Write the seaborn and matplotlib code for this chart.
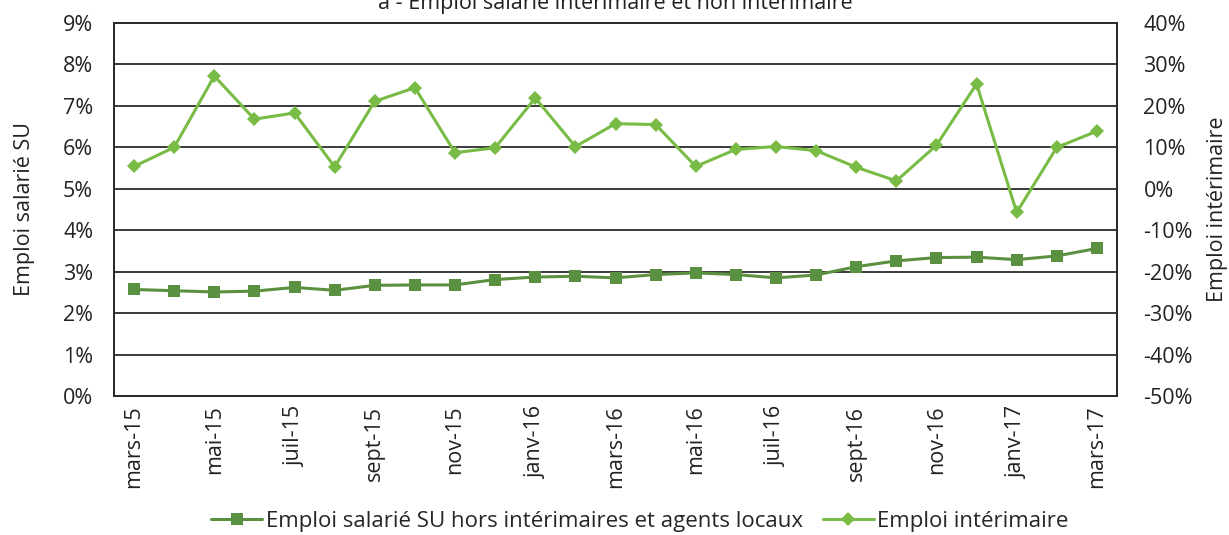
import matplotlib
matplotlib.use("Agg")
import matplotlib.pyplot as plt
import matplotlib.ticker as mtick
import numpy as np
import pandas as pd
import seaborn as sns

mois = ["mars-15", "avr-15", "mai-15", "juin-15", "juil-15", "août-15", "sept-15",
        "oct-15", "nov-15", "déc-15", "janv-16", "févr-16", "mars-16", "avr-16",
        "mai-16", "juin-16", "juil-16", "août-16", "sept-16", "oct-16", "nov-16",
        "déc-16", "janv-17", "févr-17", "mars-17"]
emploi_su = [2.57, 2.54, 2.51, 2.53, 2.62, 2.55, 2.67, 2.68, 2.68, 2.81, 2.87, 2.89,
             2.85, 2.93, 2.97, 2.93, 2.85, 2.92, 3.12, 3.26, 3.34, 3.35, 3.29, 3.38, 3.56]
emploi_interim = [5.4, 10.0, 27.2, 16.8, 18.3, 5.3, 21.1, 24.4, 8.7, 9.9, 21.9, 10.2,
                  15.7, 15.5, 5.4, 9.5, 10.2, 9.2, 5.2, 1.9, 10.5, 25.3, -5.7, 10.0, 13.9]

df = pd.DataFrame({"pos": np.arange(len(mois)), "mois": mois,
                   "su": emploi_su, "interim": emploi_interim})

sns.set_style("white")
plt.rcParams['font.family'] = ['Open Sans', 'DejaVu Sans']

vert_fonce = "#5a9140"
vert_clair = "#78bb45"
fs = 15.5

fig, ax = plt.subplots(figsize=(12.29, 5.35), dpi=100)
fig.subplots_adjust(left=114/1229, right=1117/1229, top=1-23/535, bottom=1-396/535)
ax2 = ax.twinx()

sns.lineplot(data=df, x="pos", y="su", ax=ax, color=vert_fonce, marker="s",
             markersize=8, markeredgewidth=0, linewidth=2.2,
             label="Emploi salarié SU hors intérimaires et agents locaux", legend=False)
sns.lineplot(data=df, x="pos", y="interim", ax=ax2, color=vert_clair, marker="D",
             markersize=7, markeredgewidth=0, linewidth=2.2,
             label="Emploi intérimaire", legend=False)

ax.set_ylim(0, 9)
ax.set_yticks(range(0, 10))
ax.yaxis.set_major_formatter(mtick.FuncFormatter(lambda v, p: f"{v:.0f}%"))
ax2.set_ylim(-50, 40)
ax2.set_yticks(range(-50, 41, 10))
ax2.yaxis.set_major_formatter(mtick.FuncFormatter(lambda v, p: f"{v:.0f}%"))

ax.set_xlim(-0.5, len(mois) - 0.5)
ax.set_xticks(df["pos"][::2])
ax.set_xticklabels(df["mois"][::2], rotation=90)

ax.yaxis.grid(True, color="#2b2b2b", linewidth=1.3)
ax.set_axisbelow(True)
for a in (ax, ax2):
    for s in a.spines.values():
        s.set_color("#2b2b2b")
        s.set_linewidth(1.3)
    a.tick_params(length=0, labelsize=fs, colors="#222222")
ax.tick_params(axis="y", pad=15)
ax.tick_params(axis="x", pad=7)
ax2.tick_params(axis="y", pad=19)

ax.set_xlabel("")
ax.set_ylabel("Emploi salarié SU", fontsize=fs, color="#222222", labelpad=20)
ax2.set_ylabel("Emploi intérimaire", fontsize=fs, color="#222222", labelpad=10)

h1, l1 = ax.get_legend_handles_labels()
h2, l2 = ax2.get_legend_handles_labels()
fig.legend(h1 + h2, l1 + l2, loc="center", bbox_to_anchor=(640/1229, 1-521/535),
           ncol=2, frameon=False, fontsize=16, handlelength=2.3, handletextpad=0.15,
           columnspacing=0.9)

fig.text(615/1229, 1-3/535, "a - Emploi salarié intérimaire et non intérimaire",
         ha="center", va="center", fontsize=fs, color="#222222")

fig.savefig("out.png", dpi=100)
